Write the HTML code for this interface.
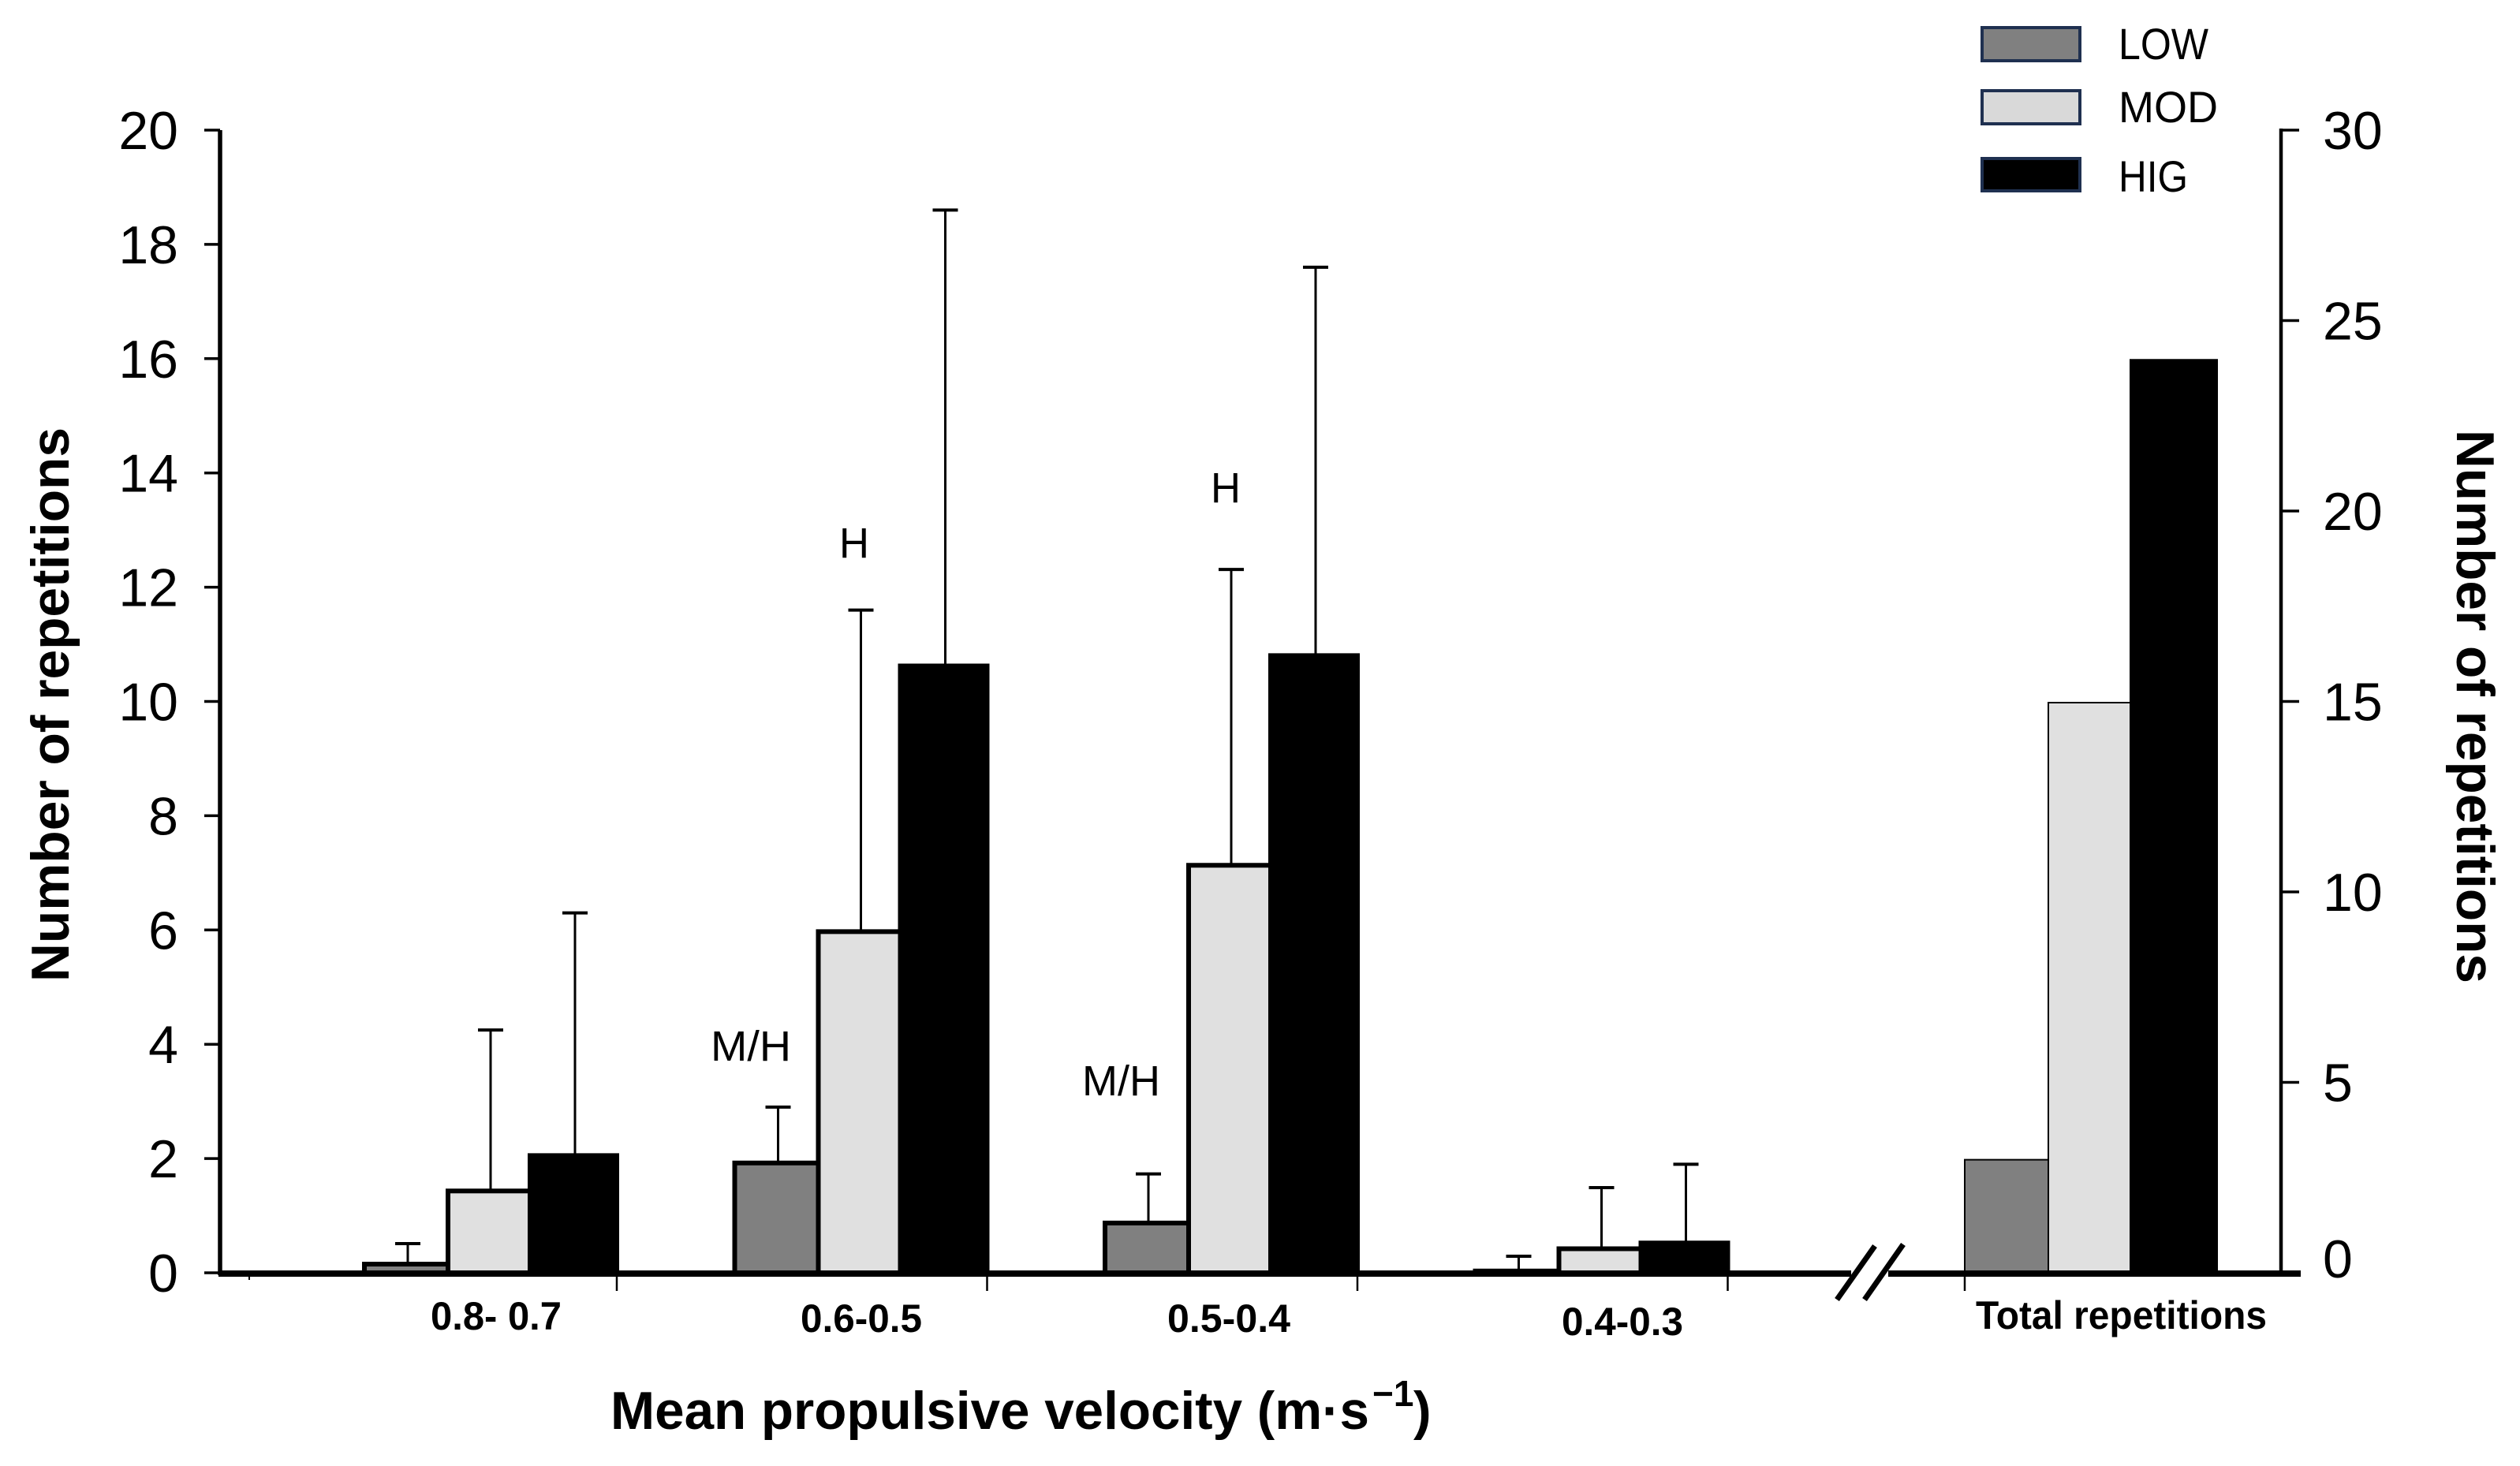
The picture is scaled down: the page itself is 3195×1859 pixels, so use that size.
<!DOCTYPE html>
<html lang="en">
<head>
<meta charset="utf-8">
<title>Number of repetitions by mean propulsive velocity</title>
<style>
  html, body { margin: 0; padding: 0; background: #fff; }
  svg { display: block; }
  text { fill: #000; font-family: "Liberation Sans", Arial, sans-serif; }
  .bold { font-weight: 700; }
</style>
</head>
<body>
<svg id="chart" xmlns="http://www.w3.org/2000/svg" width="3195" height="1859" viewBox="0 0 3195 1859">
  <rect x="0" y="0" width="3195" height="1859" fill="#ffffff"/>

  <g id="bars"></g>
  <g id="errors"></g>
  <g id="axes"></g>

  <!-- Axis break -->
  <g stroke="#000" stroke-width="7" fill="none">
    <line x1="2329" y1="1648" x2="2377" y2="1580"/>
    <line x1="2364" y1="1648" x2="2413" y2="1578"/>
  </g>

  <!-- Axis titles -->
  <text class="bold" transform="translate(87,1245) rotate(-90)" font-size="68" textLength="703" lengthAdjust="spacingAndGlyphs">Number of repetitions</text>
  <text class="bold" transform="translate(3115,545) rotate(90)" font-size="68" textLength="702" lengthAdjust="spacingAndGlyphs">Number of repetitions</text>
  <text class="bold" font-size="68" y="1812"><tspan x="774" textLength="962" lengthAdjust="spacingAndGlyphs">Mean propulsive velocity (m·s</tspan><tspan x="1740" y="1783" font-size="46">−1</tspan><tspan x="1792" y="1812">)</tspan></text>

  <!-- Category labels: text comes from the categories array -->
  <text class="bold cat-label" x="546" y="1686" font-size="50" textLength="166" lengthAdjust="spacingAndGlyphs"></text>
  <text class="bold cat-label" x="1015" y="1689" font-size="50" textLength="154" lengthAdjust="spacingAndGlyphs"></text>
  <text class="bold cat-label" x="1480" y="1689" font-size="50" textLength="156" lengthAdjust="spacingAndGlyphs"></text>
  <text class="bold cat-label" x="1980" y="1693" font-size="50" textLength="154" lengthAdjust="spacingAndGlyphs"></text>
  <text class="bold cat-label" x="2505" y="1685" font-size="50" textLength="369" lengthAdjust="spacingAndGlyphs"></text>

  <!-- Significance annotations -->
  <g fill="#1a1a1a">
    <text x="901" y="1345" font-size="54" textLength="102" lengthAdjust="spacingAndGlyphs">M/H</text>
    <text x="1372" y="1389" font-size="54" textLength="99" lengthAdjust="spacingAndGlyphs">M/H</text>
    <text x="1064" y="707" font-size="54" textLength="38" lengthAdjust="spacingAndGlyphs">H</text>
    <text x="1535" y="637" font-size="54" textLength="38" lengthAdjust="spacingAndGlyphs">H</text>
  </g>

  <!-- Legend -->
  <g>
    <g>
      <rect x="2513" y="35" width="124" height="42" fill="#808080" stroke="#1f3050" stroke-width="4"/>
      <text x="2686" y="75" font-size="56" textLength="114" lengthAdjust="spacingAndGlyphs">LOW</text>
    </g>
    <g>
      <rect x="2513" y="115" width="124" height="42" fill="#d9d9d9" stroke="#1f3050" stroke-width="4"/>
      <text x="2686" y="155" font-size="56" textLength="126" lengthAdjust="spacingAndGlyphs">MOD</text>
    </g>
    <g>
      <rect x="2513" y="201" width="124" height="41" fill="#000000" stroke="#1f3050" stroke-width="4"/>
      <text x="2686" y="243" font-size="56" textLength="88" lengthAdjust="spacingAndGlyphs">HIG</text>
    </g>
  </g>
</svg>

<script>
// ---- Chart data ----
const categories = ["0.8- 0.7", "0.6-0.5", "0.5-0.4", "0.4-0.3", "Total repetitions"];
const seriesNames = ["low", "mod", "hig"];

// Velocity bands, read against the left axis
const lowMeans = [0.2, 1.97, 0.92, 0.08];
const modMeans = [1.48, 6.02, 7.18, 0.47];
const higMeans = [2.1, 10.67, 10.85, 0.57];

// Top of each error bar, left axis
const lowErrorTops = [0.51, 2.9, 1.73, 0.29];
const modErrorTops = [4.25, 11.6, 12.31, 1.49];
const higErrorTops = [6.3, 18.6, 17.6, 1.9];

// Total repetitions, read against the right axis
const totalValues = [3, 15, 24];

const leftTicks = [0, 2, 4, 6, 8, 10, 12, 14, 16, 18, 20];
const rightTicks = [0, 5, 10, 15, 20, 25, 30];

// ---- Scales and layout ----
const SVGNS = "http://www.w3.org/2000/svg";
const Y0 = 1614, YTOP = 165;
const LEFT_X = 279, RIGHT_X = 2892;
const yLeft = v => Y0 - v * (Y0 - YTOP) / 20;
const yRight = v => Y0 - v * (Y0 - YTOP) / 30;
const groupLeft = i => i < 4 ? 462 + 469.5 * i : 2491;
const barLeft = (g, s) => groupLeft(g) + [0, 106, 210][s];
const barRight = (g, s) => groupLeft(g) + [106, 210, 320][s];
const fills = ["#808080", "#e0e0e0", "#000000"];

function make(tag, attrs, parent) {
  const el = document.createElementNS(SVGNS, tag);
  for (const k in attrs) el.setAttribute(k, attrs[k]);
  parent.appendChild(el);
  return el;
}

const barsG = document.getElementById("bars");
const errorsG = document.getElementById("errors");
const axesG = document.getElementById("axes");

function slug(s) { return s.toLowerCase().replace(/[^a-z0-9]+/g, "-"); }

function drawBar(g, s, rawTop, edge) {
  const x0 = barLeft(g, s), x1 = barRight(g, s);
  // The measured top is the outer edge of the outline, so keep the stroke inside it
  const top = rawTop + edge / 2 + 0.5;
  const rect = make("rect", { x: x0, y: top, width: x1 - x0, height: Y0 - top, fill: fills[s] }, barsG);
  
  
  const outline = make("path", {
    d: "M" + x0 + " " + Y0 + "V" + top + "H" + x1 + "V" + Y0,
    fill: "none", stroke: "#000", "stroke-width": edge
  }, barsG);
  
  
}

function drawError(g, s, topValue, meanValue) {
  const cx = (barLeft(g, s) + barRight(g, s)) / 2 + 2;
  const yT = yLeft(topValue), yB = yLeft(meanValue);
  const stem = make("line", { x1: cx, x2: cx, y1: yT, y2: yB + 2, stroke: "#000", "stroke-width": 3 }, errorsG);
  
  
  const cap = make("line", { x1: cx - 16, x2: cx + 16, y1: yT, y2: yT, stroke: "#000", "stroke-width": 4 }, errorsG);
  
  
}

const meansBySeries = [lowMeans, modMeans, higMeans];
const errorsBySeries = [lowErrorTops, modErrorTops, higErrorTops];

meansBySeries.forEach((means, s) => {
  means.forEach((v, g) => {
    drawBar(g, s, yLeft(v), 6);
    drawError(g, s, errorsBySeries[s][g], v);
  });
});
totalValues.forEach((v, s) => drawBar(4, s, yRight(v), 2));

// Axes
const leftAxis = make("line", { x1: LEFT_X, x2: LEFT_X, y1: YTOP, y2: Y0 + 3, stroke: "#000", "stroke-width": 5.5 }, axesG);



const rightAxis = make("line", { x1: RIGHT_X, x2: RIGHT_X, y1: YTOP - 2, y2: Y0, stroke: "#000", "stroke-width": 4.5 }, axesG);



const baseA = make("line", { x1: LEFT_X - 2, x2: 2347, y1: Y0 + 1, y2: Y0 + 1, stroke: "#000", "stroke-width": 8 }, axesG);



const baseB = make("line", { x1: 2394, x2: 2917, y1: Y0 + 1, y2: Y0 + 1, stroke: "#000", "stroke-width": 8 }, axesG);



const minorTick = make("line", { x1: 316, x2: 316, y1: Y0, y2: Y0 + 9, stroke: "#000", "stroke-width": 2 }, axesG);



categories.forEach((c, g) => {
  const x = g < 4 ? barRight(g, 2) : groupLeft(g);
  const t = make("line", { x1: x, x2: x, y1: Y0, y2: 1637, stroke: "#000", "stroke-width": 2.5 }, axesG);
  
  
});

leftTicks.forEach(v => {
  const y = yLeft(v);
  const tick = make("line", { x1: 259, x2: LEFT_X, y1: y, y2: y, stroke: "#000", "stroke-width": 3.5 }, axesG);
  
  
  const label = make("text", { x: 226, y: y + 24, "font-size": 68, "text-anchor": "end" }, axesG);
  label.textContent = String(v);
  
  
});

rightTicks.forEach(v => {
  const y = yRight(v);
  if (v !== 0) {
    const tick = make("line", { x1: RIGHT_X, x2: 2915, y1: y, y2: y, stroke: "#000", "stroke-width": 3.5 }, axesG);
    
    
  }
  // In the reference the zero label sits slightly above its tick
  const labelY = (v === 0 ? y - 18 : y) + 24;
  const label = make("text", { x: 2945, y: labelY, "font-size": 68 }, axesG);
  label.textContent = String(v);
  
  
});

document.querySelectorAll(".cat-label").forEach((el, i) => { el.textContent = categories[i]; });
</script>
</body>
</html>
